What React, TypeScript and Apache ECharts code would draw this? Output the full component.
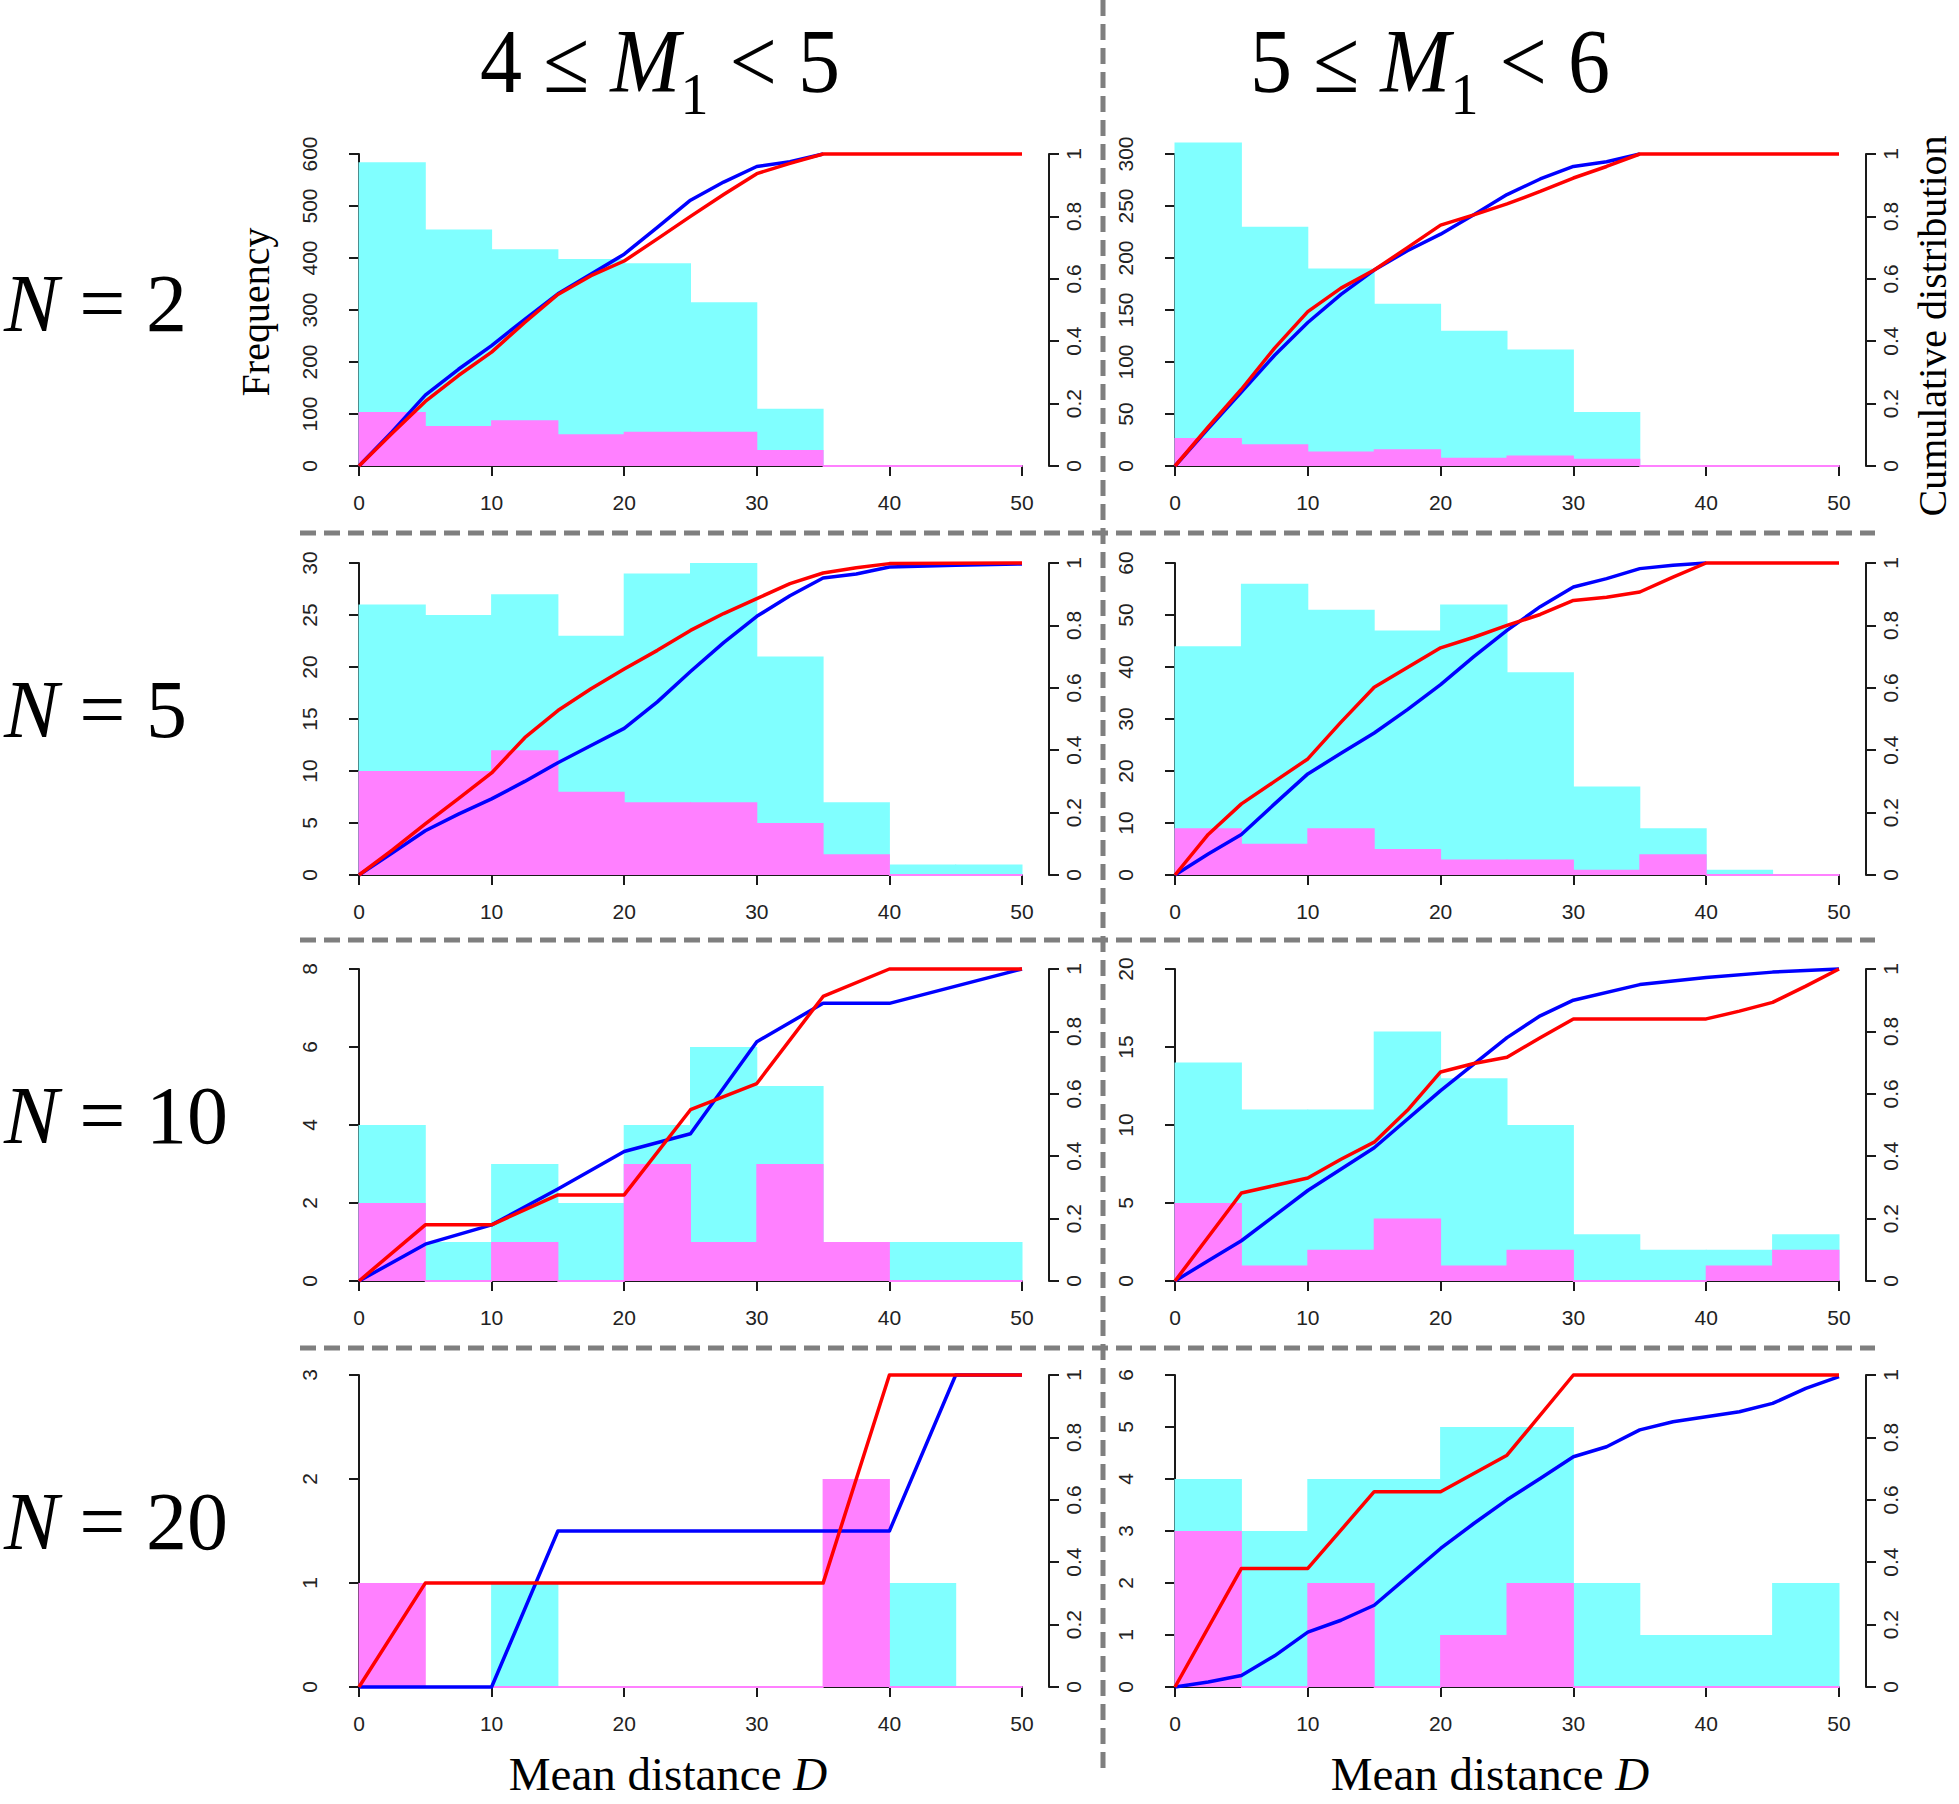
import React, { useEffect, useRef } from "react";
import * as echarts from "echarts";

// ---------------- data ----------------
const BIN_EDGES = [0, 5, 10, 15, 20, 25, 30, 35, 40, 45, 50];
const COL_TITLES = [["4", "5"], ["5", "6"]];
const ROW_LABELS = ["2", "5", "10", "20"];
const CDF_TICK_STEP = 0.2;

// N = 2
const cyanN2M4 = [584, 455, 417, 398, 390, 315, 110, 0, 0, 0];
const magentaN2M4 = [104, 77, 88, 61, 66, 66, 31, 0, 0, 0];
const redN2M4 = [[0, 0], [2.5, 0.105], [5, 0.207], [7.5, 0.29], [10, 0.365], [12.5, 0.46], [15, 0.55], [17.5, 0.61], [20, 0.657], [22.5, 0.728], [25, 0.8], [27.5, 0.87], [30, 0.937], [32.5, 0.97], [35, 1], [50, 1]];
const blueN2M4 = [[0, 0], [2.5, 0.11], [5, 0.227], [7.5, 0.31], [10, 0.386], [12.5, 0.47], [15, 0.552], [17.5, 0.615], [20, 0.679], [22.5, 0.765], [25, 0.852], [27.5, 0.91], [30, 0.96], [32.5, 0.975], [35, 1]];

const cyanN2M5 = [311, 230, 190, 156, 130, 112, 52, 0, 0, 0];
const magentaN2M5 = [27, 21, 14, 16, 8, 10, 7, 0, 0, 0];
const redN2M5 = [[0, 0], [2.5, 0.125], [5, 0.246], [7.5, 0.378], [10, 0.495], [12.5, 0.57], [15, 0.628], [17.5, 0.7], [20, 0.772], [22.5, 0.805], [25, 0.84], [27.5, 0.88], [30, 0.923], [32.5, 0.96], [35, 1], [50, 1]];
const blueN2M5 = [[0, 0], [2.5, 0.12], [5, 0.237], [7.5, 0.355], [10, 0.46], [12.5, 0.55], [15, 0.628], [17.5, 0.69], [20, 0.743], [22.5, 0.805], [25, 0.87], [27.5, 0.92], [30, 0.96], [32.5, 0.975], [35, 1]];

// N = 5
const cyanN5M4 = [26, 25, 27, 23, 29, 30, 21, 7, 1, 1];
const magentaN5M4 = [10, 10, 12, 8, 7, 7, 5, 2, 0, 0];
const redN5M4 = [[0, 0], [2.5, 0.08], [5, 0.164], [7.5, 0.245], [10, 0.327], [12.5, 0.44], [15, 0.527], [17.5, 0.597], [20, 0.66], [22.5, 0.72], [25, 0.784], [27.5, 0.838], [30, 0.886], [32.5, 0.934], [35, 0.968], [37.5, 0.985], [40, 0.998], [50, 1]];
const blueN5M4 = [[0, 0], [2.5, 0.07], [5, 0.142], [7.5, 0.195], [10, 0.244], [12.5, 0.3], [15, 0.36], [17.5, 0.415], [20, 0.47], [22.5, 0.555], [25, 0.652], [27.5, 0.745], [30, 0.829], [32.5, 0.895], [35, 0.952], [37.5, 0.965], [40, 0.987], [45, 0.993], [50, 0.997]];

const cyanN5M5 = [44, 56, 51, 47, 52, 39, 17, 9, 1, 0];
const magentaN5M5 = [9, 6, 9, 5, 3, 3, 1, 4, 0, 0];
const redN5M5 = [[0, 0], [2.5, 0.13], [5, 0.228], [7.5, 0.3], [10, 0.372], [12.5, 0.49], [15, 0.602], [17.5, 0.665], [20, 0.728], [22.5, 0.762], [25, 0.8], [27.5, 0.835], [30, 0.88], [32.5, 0.89], [35, 0.907], [37.5, 0.955], [40, 1], [50, 1]];
const blueN5M5 = [[0, 0], [2.5, 0.067], [5, 0.13], [7.5, 0.228], [10, 0.324], [12.5, 0.39], [15, 0.455], [17.5, 0.53], [20, 0.61], [22.5, 0.7], [25, 0.784], [27.5, 0.86], [30, 0.923], [32.5, 0.95], [35, 0.982], [37.5, 0.993], [40, 1]];

// N = 10
const cyanN10M4 = [4, 1, 3, 2, 4, 6, 5, 0, 1, 1];
const magentaN10M4 = [2, 0, 1, 0, 3, 1, 3, 1, 0, 0];
const redN10M4 = [[0, 0], [5, 0.18], [10, 0.18], [15, 0.276], [20, 0.276], [25, 0.549], [30, 0.633], [35, 0.912], [40, 1], [50, 1]];
const blueN10M4 = [[0, 0], [5, 0.118], [10, 0.18], [15, 0.295], [20, 0.415], [25, 0.472], [30, 0.767], [35, 0.89], [40, 0.89], [50, 1]];

const cyanN10M5 = [14, 11, 11, 16, 13, 10, 3, 2, 2, 3];
const magentaN10M5 = [5, 1, 2, 4, 1, 2, 0, 0, 1, 2];
const redN10M5 = [[0, 0], [5, 0.282], [7.5, 0.306], [10, 0.33], [12.5, 0.39], [15, 0.445], [17.5, 0.547], [20, 0.67], [22.5, 0.697], [25, 0.717], [27.5, 0.78], [30, 0.84], [35, 0.84], [40, 0.84], [42.5, 0.865], [45, 0.893], [47.5, 0.945], [50, 1]];
const blueN10M5 = [[0, 0], [2.5, 0.065], [5, 0.129], [10, 0.29], [15, 0.427], [20, 0.61], [25, 0.78], [27.5, 0.85], [30, 0.9], [35, 0.95], [40, 0.973], [45, 0.99], [50, 1]];

// N = 20
const cyanN20M4 = [0, 0, 1, 0, 0, 0, 0, 0, 1, 0];
const magentaN20M4 = [1, 0, 0, 0, 0, 0, 0, 2, 0, 0];
const redN20M4 = [[0, 0], [5, 0.333], [35, 0.333], [40, 1], [50, 1]];
const blueN20M4 = [[0, 0], [10, 0], [15, 0.5], [40, 0.5], [45, 1], [50, 1]];

const cyanN20M5 = [4, 3, 4, 4, 5, 5, 2, 1, 1, 2];
const magentaN20M5 = [3, 0, 2, 0, 1, 2, 0, 0, 0, 0];
const redN20M5 = [[0, 0], [5, 0.38], [10, 0.38], [15, 0.626], [20, 0.626], [25, 0.743], [30, 1], [50, 1]];
const blueN20M5 = [[0, 0], [2.5, 0.016], [5, 0.037], [7.5, 0.1], [10, 0.176], [12.5, 0.214], [15, 0.262], [17.5, 0.353], [20, 0.444], [22.5, 0.524], [25, 0.6], [27.5, 0.668], [30, 0.738], [32.5, 0.77], [35, 0.824], [37.5, 0.85], [40, 0.866], [42.5, 0.882], [45, 0.909], [47.5, 0.957], [50, 0.995]];

const FREQ_MAX = [600, 300, 30, 60, 8, 20, 3, 6];
const FREQ_STEP = [100, 50, 5, 10, 2, 5, 1, 1];

const PANELS = [
  { cyan: cyanN2M4, magenta: magentaN2M4, red: redN2M4, blue: blueN2M4 },
  { cyan: cyanN2M5, magenta: magentaN2M5, red: redN2M5, blue: blueN2M5 },
  { cyan: cyanN5M4, magenta: magentaN5M4, red: redN5M4, blue: blueN5M4 },
  { cyan: cyanN5M5, magenta: magentaN5M5, red: redN5M5, blue: blueN5M5 },
  { cyan: cyanN10M4, magenta: magentaN10M4, red: redN10M4, blue: blueN10M4 },
  { cyan: cyanN10M5, magenta: magentaN10M5, red: redN10M5, blue: blueN10M5 },
  { cyan: cyanN20M4, magenta: magentaN20M4, red: redN20M4, blue: blueN20M4 },
  { cyan: cyanN20M5, magenta: magentaN20M5, red: redN20M5, blue: blueN20M5 },
];

// ---------------- layout ----------------
const W = 1959;
const H = 1804;
const COL_LEFT = [359, 1175];
const COL_WIDTH = [663, 664];
const ROW_TOP = [154, 563, 969, 1375];
const ROW_HEIGHT = 312;
const SERIF = "Liberation Serif";
const SANS = "Liberation Sans";
const CYAN = "#80FFFF";
const MAGENTA = "#FF80FF";
const AXIS_COLOR = "#1a1a1a";
const LABEL_COLOR = "#222222";

function histRender(color: string, minH: number) {
  return (params: any, api: any) => {
    const x0 = api.value(0);
    const x1 = api.value(1);
    const h = api.value(2);
    const a = api.coord([x0, 0]);
    const b = api.coord([x1, h]);
    let top = b[1];
    let height = a[1] - b[1];
    if (height < minH) {
      if (minH === 0) return null;
      top = a[1] - minH / 2;
      height = minH;
    }
    if (height <= 0) return null;
    return {
      type: "rect",
      shape: { x: a[0] - 0.5, y: top, width: b[0] - a[0] + 1, height },
      style: { fill: color },
    };
  };
}

type Part = { t: string; fs: number; it?: boolean; dy?: number };

function composite(
  ctx: CanvasRenderingContext2D,
  parts: Part[],
  x: number,
  baseline: number,
  align: "left" | "center",
  targetWidth?: number
) {
  const widths = parts.map((p) => {
    ctx.font = `${p.it ? "italic " : ""}${p.fs}px "${SERIF}"`;
    return ctx.measureText(p.t).width;
  });
  const total = widths.reduce((s, w) => s + w, 0);
  const sx = targetWidth ? targetWidth / total : 1;
  let cur = align === "center" ? x - (total * sx) / 2 : x;
  const els: any[] = [];
  parts.forEach((p, i) => {
    els.push({
      type: "text",
      x: cur,
      y: baseline + (p.dy || 0) - 0.3375 * p.fs,
      scaleX: sx,
      z: 10,
      style: {
        text: p.t,
        fontSize: p.fs,
        fontFamily: SERIF,
        fontStyle: p.it ? "italic" : "normal",
        fill: "#000",
        align: "left",
        verticalAlign: "middle",
      },
    });
    cur += widths[i] * sx;
  });
  return els;
}

export default function App() {
  const ref = useRef<HTMLDivElement>(null);

  useEffect(() => {
    if (!ref.current) return;
    const chart = echarts.init(ref.current, undefined, { renderer: "svg" });
    const canvas = document.createElement("canvas");
    const ctx = canvas.getContext("2d") as CanvasRenderingContext2D;

    const grids: any[] = [];
    const xAxes: any[] = [];
    const yAxes: any[] = [];
    const series: any[] = [];

    const axisLine = { show: true, lineStyle: { color: AXIS_COLOR, width: 2 } };
    const axisTick = { show: true, length: 10, inside: false, lineStyle: { color: AXIS_COLOR, width: 2 } };
    const labelBase = { fontSize: 21, color: LABEL_COLOR, fontFamily: SANS };

    PANELS.forEach((p, i) => {
      const row = Math.floor(i / 2);
      const col = i % 2;
      grids.push({
        left: COL_LEFT[col],
        top: ROW_TOP[row],
        width: COL_WIDTH[col],
        height: ROW_HEIGHT,
        containLabel: false,
      });
      xAxes.push({
        gridIndex: i,
        type: "value",
        min: 0,
        max: 50,
        interval: 10,
        position: "bottom",
        offset: 12,
        axisLine,
        axisTick,
        axisLabel: { ...labelBase, margin: 14 },
        splitLine: { show: false },
      });
      yAxes.push({
        gridIndex: i,
        type: "value",
        min: 0,
        max: FREQ_MAX[i],
        interval: FREQ_STEP[i],
        position: "left",
        offset: 25,
        axisLine,
        axisTick,
        axisLabel: { ...labelBase, rotate: 90, margin: 14 },
        splitLine: { show: false },
      });
      yAxes.push({
        gridIndex: i,
        type: "value",
        min: 0,
        max: 1,
        interval: CDF_TICK_STEP,
        position: "right",
        offset: 27,
        axisLine,
        axisTick,
        axisLabel: { ...labelBase, rotate: 90, margin: 14 },
        splitLine: { show: false },
      });
      const binData = (vals: number[]) => vals.map((v, k) => [BIN_EDGES[k], BIN_EDGES[k + 1], v]);
      series.push({
        type: "custom",
        xAxisIndex: i,
        yAxisIndex: 2 * i,
        data: binData(p.cyan),
        renderItem: histRender(CYAN, 0),
        encode: { x: [0, 1], y: 2 },
        clip: false,
        silent: true,
        z: 1,
      });
      series.push({
        type: "custom",
        xAxisIndex: i,
        yAxisIndex: 2 * i,
        data: binData(p.magenta),
        renderItem: histRender(MAGENTA, 2),
        encode: { x: [0, 1], y: 2 },
        clip: false,
        silent: true,
        z: 2,
      });
      series.push({
        type: "line",
        xAxisIndex: i,
        yAxisIndex: 2 * i + 1,
        data: p.blue,
        showSymbol: false,
        symbol: "none",
        clip: false,
        silent: true,
        lineStyle: { color: "#0000FF", width: 3.5, join: "round" },
        z: 3,
      });
      series.push({
        type: "line",
        xAxisIndex: i,
        yAxisIndex: 2 * i + 1,
        data: p.red,
        showSymbol: false,
        symbol: "none",
        clip: false,
        silent: true,
        lineStyle: { color: "#FF0000", width: 3.5, join: "round" },
        z: 4,
      });
    });

    const graphics: any[] = [];
    // dashed separators
    const dash = { stroke: "#7f7f7f", lineWidth: 5, lineDash: [16, 8] };
    graphics.push({ type: "line", shape: { x1: 1103, y1: 0, x2: 1103, y2: 1772 }, style: dash, z: 5 });
    [533, 940, 1348].forEach((y) => {
      graphics.push({ type: "line", shape: { x1: 300, y1: y, x2: 1875, y2: y }, style: dash, z: 5 });
    });

    // column titles
    const titleCenters = [660, 1430];
    COL_TITLES.forEach((ct, c) => {
      const fs = 90;
      graphics.push(
        ...composite(
          ctx,
          [
            { t: `${ct[0]} ≤ `, fs },
            { t: "M", fs, it: true },
            { t: "1", fs: 60, dy: 22 },
            { t: ` < ${ct[1]}`, fs },
          ],
          titleCenters[c],
          92,
          "center",
          360
        )
      );
    });

    // row labels
    const rowBaselines = [331, 737, 1143, 1549];
    ROW_LABELS.forEach((lab, r) => {
      graphics.push(
        ...composite(ctx, [{ t: "N", fs: 82, it: true }, { t: ` = ${lab}`, fs: 82 }], 4, rowBaselines[r], "left")
      );
    });

    // x axis titles
    [668, 1490].forEach((cx) => {
      graphics.push(
        ...composite(ctx, [{ t: "Mean distance ", fs: 47 }, { t: "D", fs: 47, it: true }], cx, 1790, "center")
      );
    });

    // y axis titles
    graphics.push({
      type: "text",
      x: 255,
      y: 312,
      rotation: Math.PI / 2,
      z: 10,
      style: { text: "Frequency", fontSize: 40, fontFamily: SERIF, fill: "#000", align: "center", verticalAlign: "middle" },
    });
    graphics.push({
      type: "text",
      x: 1932,
      y: 326,
      rotation: Math.PI / 2,
      z: 10,
      style: {
        text: "Cumulative distribution",
        fontSize: 40,
        fontFamily: SERIF,
        fill: "#000",
        align: "center",
        verticalAlign: "middle",
      },
    });

    chart.setOption({
      animation: false,
      backgroundColor: "#ffffff",
      grid: grids,
      xAxis: xAxes,
      yAxis: yAxes,
      series,
      graphic: { elements: graphics },
    });

    return () => {
      chart.dispose();
    };
  }, []);

  return (
    <div
      ref={ref}
      style={{ position: "absolute", left: 0, top: 0, width: W, height: H, background: "#fff" }}
    />
  );
}
